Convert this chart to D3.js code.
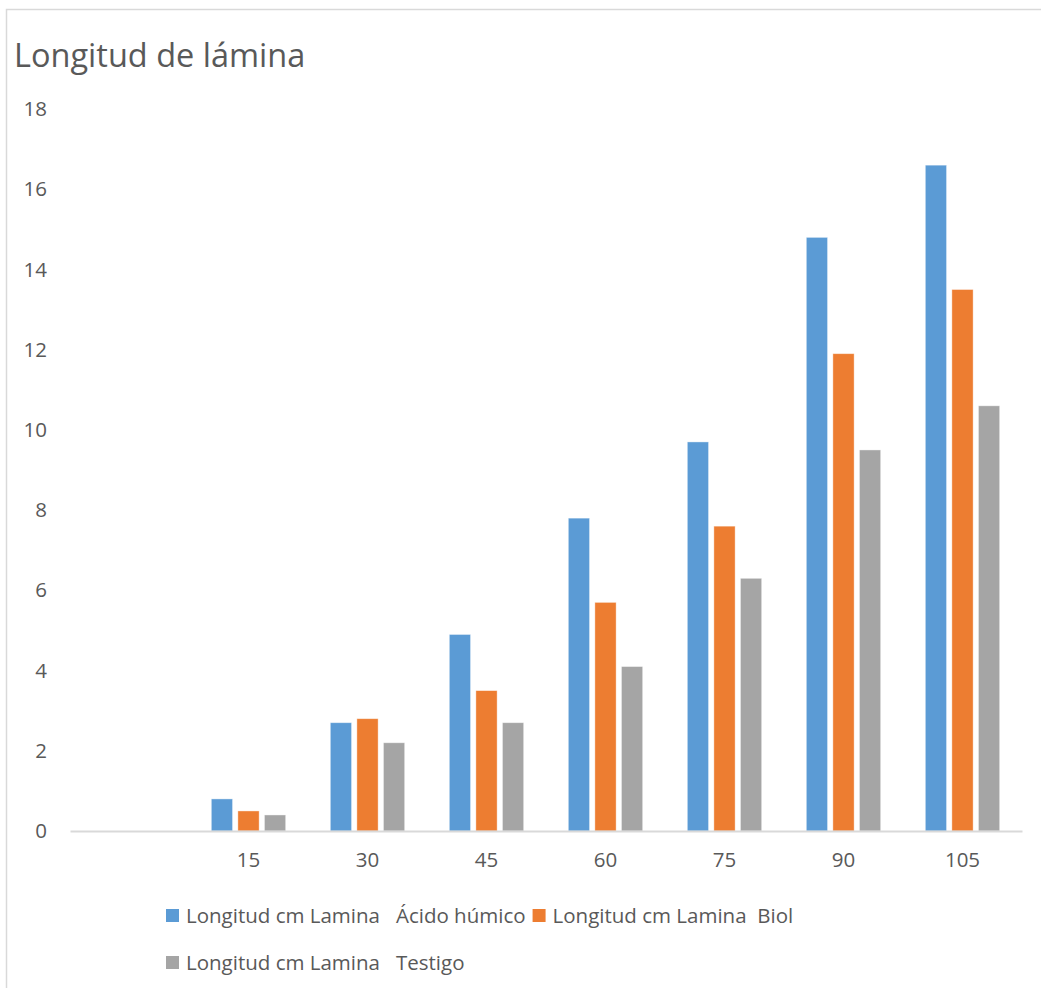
<!DOCTYPE html>
<html>
<head>
<meta charset="utf-8">
<script src="https://cdn.jsdelivr.net/npm/d3@7"></script>
<style>
  html, body { margin: 0; padding: 0; background: #fff; }
  text { font-family: "Open Sans", sans-serif; fill: #595959; white-space: pre; }
</style>
</head>
<body>
<svg id="chart" width="1041" height="988"></svg>
<script>
// Days after planting (first slot is an empty category)
const categories = ["", "15", "30", "45", "60", "75", "90", "105"];
const seriesNames = [
  "Longitud cm Lamina   Ácido húmico",
  "Longitud cm Lamina  Biol",
  "Longitud cm Lamina   Testigo"
];
const acidoHumico = [null, 0.8, 2.7, 4.9, 7.8, 9.7, 14.8, 16.6];
const biol        = [null, 0.5, 2.8, 3.5, 5.7, 7.6, 11.9, 13.5];
const testigo     = [null, 0.4, 2.2, 2.7, 4.1, 6.3, 9.5, 10.6];
const yTicks = [0, 2, 4, 6, 8, 10, 12, 14, 16, 18];
const colors = ["#5B9BD5", "#ED7D31", "#A5A5A5"];

const series = [acidoHumico, biol, testigo];
const FONT = "'Open Sans', sans-serif";

const svg = d3.select("#chart");

// outer chart frame
svg.append("rect")
  .attr("x", 6.5).attr("y", 9.5)
  .attr("width", 1100).attr("height", 1100)
  .attr("fill", "none").attr("stroke", "#D9D9D9").attr("stroke-width", 1.5);

svg.append("text")
  .attr("x", 14).attr("y", 67)
  .attr("font-size", 32.5)
  .text("Longitud de lámina");

const plot = { left: 70, right: 1022, top: 109, bottom: 831 };

const x = d3.scaleBand().domain(categories.map((c, i) => i))
  .range([plot.left, plot.right]).paddingInner(0).paddingOuter(0);
const y = d3.scaleLinear().domain([0, 18]).range([plot.bottom, plot.top]);

const groupWidth = x.bandwidth() * 0.625;
const x1 = d3.scaleBand().domain(d3.range(series.length))
  .range([0, groupWidth]).paddingInner(0.2);

// bars
series.forEach((vals, s) => {
  svg.append("g").selectAll("rect")
    .data(vals.map((v, i) => ({ v, i })).filter(d => d.v != null))
    .join("rect")
    .attr("x", d => x(d.i) + (x.bandwidth() - groupWidth) / 2 + x1(s))
    .attr("width", x1.bandwidth())
    .attr("y", d => y(d.v))
    .attr("height", d => y(0) - y(d.v))
    .attr("fill", colors[s])
    .attr("stroke", "#fff").attr("stroke-opacity", 0.5).attr("stroke-width", 0.8);
});

// y axis labels
const yAxis = d3.axisLeft(y).tickValues(yTicks).tickSize(0).tickPadding(0);
const gy = svg.append("g").attr("transform", "translate(47,0)").call(yAxis);
gy.select(".domain").remove();
gy.selectAll("text").attr("font-size", 20.5).attr("fill", "#595959")
  .style("font-family", FONT);

// x axis
const xAxis = d3.axisBottom(x).tickFormat(i => categories[i]).tickSize(0).tickPadding(21);
const gx = svg.append("g").attr("transform", `translate(0,${plot.bottom})`).call(xAxis);
gx.select(".domain").attr("stroke", "#D9D9D9").attr("stroke-width", 2);
gx.selectAll("text").attr("font-size", 20.5).attr("fill", "#595959")
  .style("font-family", FONT);

// legend: items flow left to right, wrapping onto a second row
const lg = svg.append("g");
let lx = 166, ly = 916;
seriesNames.forEach((name, s) => {
  const item = lg.append("g");
  item.append("rect").attr("x", 0).attr("y", -7).attr("width", 13).attr("height", 13)
    .attr("fill", colors[s]);
  const t = item.append("text").attr("x", 20).attr("y", 0).attr("dy", "0.35em")
    .attr("font-size", 20.5).text(name);
  const w = 20 + t.node().getComputedTextLength();
  if (lx + w > 900) { lx = 166; ly += 47; }
  item.attr("transform", `translate(${lx},${ly})`);
  lx += w + 7;
});
</script>
</body>
</html>
